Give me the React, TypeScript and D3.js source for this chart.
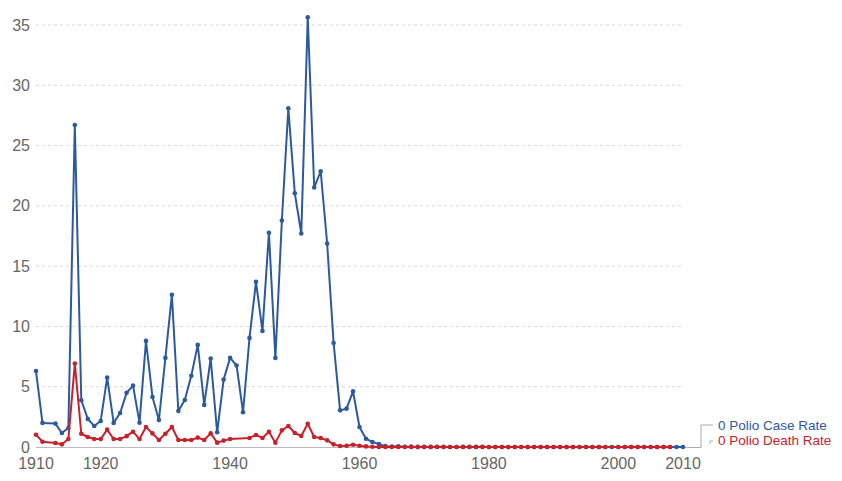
import React, { useEffect, useRef } from "react";
import * as d3 from "d3";

// Polio case rate and death rate per 100,000 (US)
const caseYears = [
  1910, 1911, 1913, 1914, 1915, 1916, 1917, 1918, 1919, 1920, 1921, 1922, 1923, 1924, 1925,
  1926, 1927, 1928, 1929, 1930, 1931, 1932, 1933, 1934, 1935, 1936, 1937, 1938, 1939, 1940,
  1941, 1942, 1943, 1944, 1945, 1946, 1947, 1948, 1949, 1950, 1951, 1952, 1953, 1954, 1955,
  1956, 1957, 1958, 1959, 1960, 1961, 1962, 1963, 1964, 1965, 1966, 1967, 1968, 1969, 1970,
  1971, 1972, 1973, 1974, 1975, 1976, 1977, 1978, 1979, 1980, 1981, 1982, 1983, 1984, 1985,
  1986, 1987, 1988, 1989, 1990, 1991, 1992, 1993, 1994, 1995, 1996, 1997, 1998, 1999, 2000,
  2001, 2002, 2003, 2004, 2005, 2006, 2007, 2008, 2009, 2010,
];
const caseRates = [
  6.3, 2.0, 1.94, 1.16, 1.58, 26.7, 3.88, 2.33, 1.74, 2.16, 5.76, 2.0, 2.82, 4.49, 5.09,
  2.02, 8.8, 4.15, 2.24, 7.39, 12.62, 2.99, 3.9, 5.9, 8.47, 3.49, 7.34, 1.22, 5.59, 7.39,
  6.76, 2.88, 9.05, 13.7, 9.63, 17.77, 7.39, 18.78, 28.09, 21.05, 17.71, 35.64, 21.52, 22.87, 16.88,
  8.62, 3.04, 3.18, 4.61, 1.66, 0.69, 0.41, 0.24, 0.07, 0.04, 0.06, 0.02, 0.03, 0.01, 0.02,
  0.01, 0.02, 0.01, 0.0, 0.0, 0.01, 0.01, 0.01, 0.02, 0.0, 0.0, 0.0, 0.0, 0.0, 0.0,
  0.0, 0.0, 0.0, 0.0, 0.0, 0.0, 0.0, 0.0, 0.0, 0.0, 0.0, 0.0, 0.0, 0.0, 0.0,
  0.0, 0.0, 0.0, 0.0, 0.0, 0.0, 0.0, 0.0, 0.0, 0.0,
];

const deathYears = [
  1910, 1911, 1913, 1914, 1915, 1916, 1917, 1918, 1919, 1920, 1921, 1922, 1923, 1924, 1925,
  1926, 1927, 1928, 1929, 1930, 1931, 1932, 1933, 1934, 1935, 1936, 1937, 1938, 1939, 1940,
  1943, 1944, 1945, 1946, 1947, 1948, 1949, 1950, 1951, 1952, 1953, 1954, 1955, 1956, 1957,
  1958, 1959, 1960, 1961, 1962, 1963, 1964, 1965, 1966, 1967, 1968, 1969, 1970, 1971, 1972,
  1973, 1974, 1975, 1976, 1977, 1978, 1979, 1980, 1981, 1982, 1983, 1984, 1985, 1986, 1987,
  1988, 1989, 1990, 1991, 1992, 1993, 1994, 1995, 1996, 1997, 1998, 2000, 2001, 2002, 2003,
  2004, 2005, 2006, 2007, 2008,
];
const deathRates = [
  1.02, 0.44, 0.33, 0.22, 0.66, 6.92, 1.1, 0.83, 0.66, 0.66, 1.44, 0.66, 0.66, 0.9, 1.27,
  0.66, 1.66, 1.13, 0.58, 1.1, 1.66, 0.58, 0.58, 0.58, 0.78, 0.58, 1.13, 0.36, 0.53, 0.66,
  0.75, 1.0, 0.75, 1.27, 0.36, 1.38, 1.74, 1.16, 0.91, 1.93, 0.83, 0.75, 0.55, 0.22, 0.08,
  0.1, 0.19, 0.1, 0.05, 0.02, 0.01, 0.01, 0.0, 0.0, 0.0, 0.0, 0.0, 0.0, 0.0, 0.0,
  0.0, 0.0, 0.0, 0.0, 0.0, 0.0, 0.0, 0.0, 0.0, 0.0, 0.0, 0.0, 0.0, 0.0, 0.0,
  0.0, 0.0, 0.0, 0.0, 0.0, 0.0, 0.0, 0.0, 0.0, 0.0, 0.0, 0.0, 0.0, 0.0, 0.0,
  0.0, 0.0, 0.0, 0.0, 0.0,
];

const yTicks = [0, 5, 10, 15, 20, 25, 30, 35];
const xTicks = [1910, 1920, 1940, 1960, 1980, 2000, 2010];

const caseLabel = "0 Polio Case Rate";
const deathLabel = "0 Polio Death Rate";

const BLUE = "#2d5a9e";
const RED = "#c6222c";

export default function App() {
  const svgRef = useRef<SVGSVGElement>(null);

  useEffect(() => {
    if (!svgRef.current) return;
    const svg = d3.select(svgRef.current);
    svg.selectAll("*").remove();

    const x = d3.scaleLinear().domain([1910, 2010]).range([36, 683]);
    const y = d3.scaleLinear().domain([0, 35]).range([447, 25]);
    const font = "'Liberation Sans', Arial, sans-serif";

    // grid lines
    svg
      .append("g")
      .selectAll("line")
      .data(yTicks.filter((t) => t > 0))
      .enter()
      .append("line")
      .attr("x1", x(1910))
      .attr("x2", x(2010))
      .attr("y1", (d) => y(d))
      .attr("y2", (d) => y(d))
      .attr("stroke", "#d9d9d9")
      .attr("stroke-dasharray", "3,3");

    // baseline
    svg
      .append("line")
      .attr("x1", x(1910))
      .attr("x2", 701)
      .attr("y1", y(0) + 0.5)
      .attr("y2", y(0) + 0.5)
      .attr("stroke", "#bbb");

    // y labels
    svg
      .append("g")
      .selectAll("text")
      .data(yTicks)
      .enter()
      .append("text")
      .attr("x", 30)
      .attr("y", (d) => y(d))
      .attr("dy", "0.35em")
      .attr("text-anchor", "end")
      .style("font-family", font)
      .style("font-size", "16px")
      .style("fill", "#666")
      .text((d) => d);

    // x labels
    svg
      .append("g")
      .selectAll("text")
      .data(xTicks)
      .enter()
      .append("text")
      .attr("x", (d) => x(d))
      .attr("y", 469)
      .attr("text-anchor", "middle")
      .style("font-family", font)
      .style("font-size", "16px")
      .style("fill", "#666")
      .text((d) => d);

    const line = d3
      .line<[number, number]>()
      .x((d) => x(d[0]))
      .y((d) => y(d[1]));

    const series = [
      { years: caseYears, values: caseRates, color: BLUE },
      { years: deathYears, values: deathRates, color: RED },
    ];

    series.forEach((s) => {
      const pts: [number, number][] = s.years.map((yr, i) => [yr, s.values[i]]);
      svg
        .append("path")
        .datum(pts)
        .attr("fill", "none")
        .attr("stroke", s.color)
        .attr("stroke-width", 2)
        .attr("stroke-linejoin", "round")
        .attr("d", line);
      svg
        .append("g")
        .selectAll("circle")
        .data(pts)
        .enter()
        .append("circle")
        .attr("cx", (d) => x(d[0]))
        .attr("cy", (d) => y(d[1]))
        .attr("r", 2.3)
        .attr("fill", s.color);
    });

    // legend connectors
    svg
      .append("path")
      .attr("d", "M689,447.5 H701 V425 H713")
      .attr("fill", "none")
      .attr("stroke", "#aaa");
    svg
      .append("path")
      .attr("d", "M710,444 V441 H713")
      .attr("fill", "none")
      .attr("stroke", "#aaa");

    svg
      .append("text")
      .attr("x", 718)
      .attr("y", 429.5)
      .style("font-family", font)
      .style("font-size", "13.5px")
      .style("fill", BLUE)
      .text(caseLabel);
    svg
      .append("text")
      .attr("x", 718)
      .attr("y", 445)
      .style("font-family", font)
      .style("font-size", "13.5px")
      .style("fill", RED)
      .text(deathLabel);
  }, []);

  return (
    <div style={{ position: "absolute", left: 0, top: 0 }}>
      <svg ref={svgRef} width={842} height={481} style={{ display: "block", background: "#fff" }} />
    </div>
  );
}
